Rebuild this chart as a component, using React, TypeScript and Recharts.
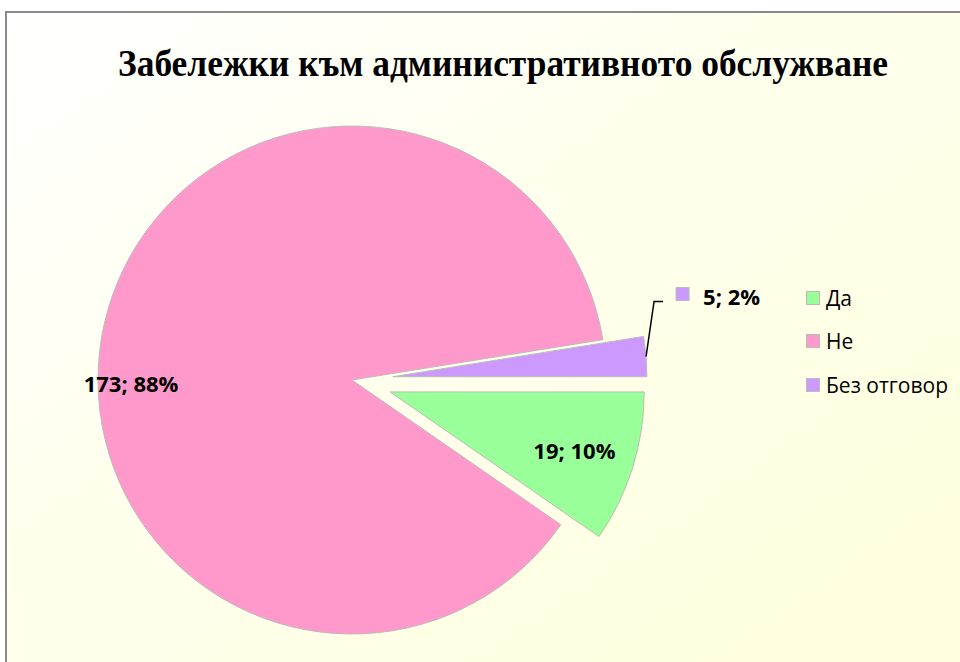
import React from 'react';
import { PieChart, Pie, Cell, Sector, Legend } from 'recharts';

const categories = ['Да', 'Не', 'Без отговор'];
const counts = [19, 173, 5];
const percents = [10, 88, 2];
const colors = ['#99FF99', '#FF99CC', '#CC99FF'];
const explode = [40, 0, 41];

const data = categories.map((name, i) => ({ name, value: counts[i], pct: percents[i] }));

const RAD = Math.PI / 180;
const labelFont = "'Open Sans', 'DejaVu Sans', sans-serif";

const idxOf = (props: any) => {
  const n = props.name ?? props.payload?.name;
  const i = categories.indexOf(n);
  return i >= 0 ? i : props.index ?? 0;
};

const shiftCenter = (cx: number, cy: number, midAngle: number, off: number) => ({
  x: cx + off * Math.cos(-midAngle * RAD),
  y: cy + off * Math.sin(-midAngle * RAD),
});

const ExplodedSector = (props: any) => {
  const i = idxOf(props);
  const c = shiftCenter(props.cx, props.cy, props.midAngle, explode[i]);
  return (
    <Sector
      cx={c.x}
      cy={c.y}
      innerRadius={0}
      outerRadius={props.outerRadius}
      startAngle={props.startAngle}
      endAngle={props.endAngle}
      fill={colors[i]}
      stroke="#BBBBBB"
      strokeWidth={1}
    />
  );
};

const renderLabel = (props: any) => {
  const i = idxOf(props);
  const { cx, cy, midAngle, outerRadius } = props;
  const text = `${counts[i]}; ${percents[i]}%`;
  const c = shiftCenter(cx, cy, midAngle, explode[i]);
  const dx = Math.cos(-midAngle * RAD);
  const dy = Math.sin(-midAngle * RAD);
  const style = { fontFamily: labelFont, fontWeight: 700, fontSize: 22, fill: '#000' };
  if (i === 1) {
    return (
      <text x={cx - outerRadius * 0.87} y={cy + 3} textAnchor="middle" dominantBaseline="central" style={style}>
        {text}
      </text>
    );
  }
  if (i === 0) {
    const r = outerRadius * 0.76;
    return (
      <text x={c.x + r * dx} y={c.y + r * dy} textAnchor="middle" dominantBaseline="central" style={style}>
        {text}
      </text>
    );
  }
  // outside label with leader line and legend key
  const p0x = c.x + outerRadius * dx;
  const p0y = c.y + outerRadius * dy;
  const p1x = p0x + 8;
  const p1y = p0y - 55;
  const p2x = p1x + 9;
  return (
    <g>
      <polyline points={`${p0x},${p0y} ${p1x},${p1y} ${p2x},${p1y}`} fill="none" stroke="#000" strokeWidth={1.5} />
      <rect x={p2x + 13} y={p1y - 14} width={13} height={13} fill={colors[i]} stroke="#BBBBBB" />
      <text x={p2x + 40} y={p1y - 6} dominantBaseline="central" style={style}>
        {text}
      </text>
    </g>
  );
};

const renderLegend = () => (
  <div style={{ fontFamily: labelFont, fontSize: 21, color: '#000' }}>
    {categories.map((name, i) => (
      <div key={name} style={{ display: 'flex', alignItems: 'center', height: 43.5 }}>
        <span
          style={{
            display: 'inline-block',
            width: 12,
            height: 12,
            background: colors[i],
            border: '1px solid #BBBBBB',
            marginRight: 6,
          }}
        />
        <span>{name}</span>
      </div>
    ))}
  </div>
);

export default function App() {
  return (
    <div style={{ position: 'absolute', left: 0, top: 0, width: 960, height: 662, overflow: 'hidden', background: '#fff' }}>
      <div
        style={{
          position: 'absolute',
          left: 5,
          top: 11,
          width: 970,
          height: 670,
          borderLeft: '2px solid #8A8A8A',
          borderTop: '2px solid #8A8A8A',
          background: 'linear-gradient(to bottom right, #FFFFFF 0%, #FFFFEE 40%, #FFFFDC 100%)',
        }}
      />
      <svg width={960} height={110} style={{ position: 'absolute', left: 0, top: 0 }}>
        <text
          x={118}
          y={76}
          textLength={770}
          lengthAdjust="spacingAndGlyphs"
          style={{ fontFamily: "'Liberation Serif', 'DejaVu Serif', serif", fontWeight: 700, fontSize: 38, fill: '#000' }}
        >
          Забележки към административното обслужване
        </text>
      </svg>
      <div style={{ position: 'absolute', left: 0, top: 0 }}>
        <PieChart width={960} height={662}>
          <Pie
            data={data}
            dataKey="value"
            nameKey="name"
            cx={347}
            cy={375}
            outerRadius={254}
            startAngle={0}
            endAngle={-360}
            shape={ExplodedSector}
            label={renderLabel}
            labelLine={false}
            isAnimationActive={false}
          >
            {data.map((d, i) => (
              <Cell key={d.name} fill={colors[i]} stroke="#BBBBBB" />
            ))}
          </Pie>
          <Legend
            layout="vertical"
            content={renderLegend}
            wrapperStyle={{ position: 'absolute', left: 806, top: 276, width: 150 }}
          />
        </PieChart>
      </div>
    </div>
  );
}
